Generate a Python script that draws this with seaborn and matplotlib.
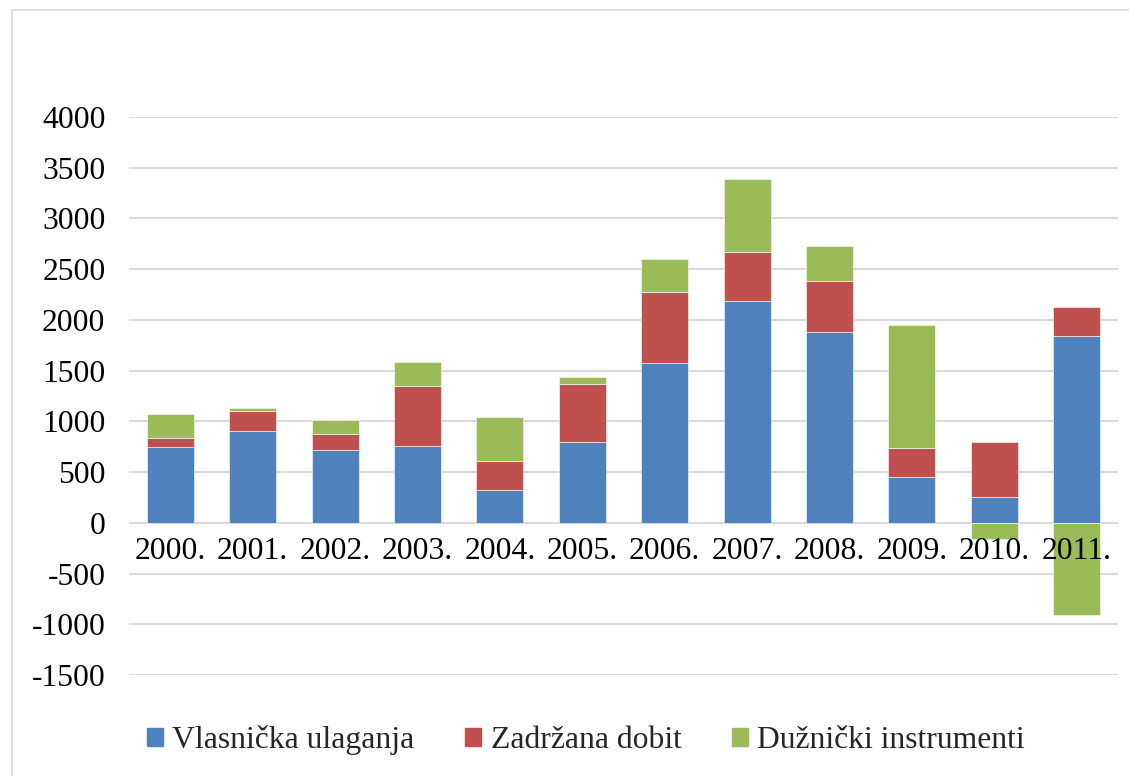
import matplotlib
matplotlib.use("Agg")
import matplotlib.pyplot as plt
import matplotlib.patches as mpatches
import numpy as np
import seaborn as sns

years = ["2000.", "2001.", "2002.", "2003.", "2004.", "2005.",
         "2006.", "2007.", "2008.", "2009.", "2010.", "2011."]
vlasnicka = [747, 908, 717, 760, 319, 796, 1574, 2187, 1882, 449, 259, 1846]
zadrzana = [85, 191, 158, 589, 286, 570, 701, 485, 505, 285, 534, 279]
duznicki = [244, 33, 141, 240, 434, 70, 322, 715, 338, 1214, -157, -908]

series_names = ["Vlasnička ulaganja", "Zadržana dobit", "Dužnički instrumenti"]
colors = ["#4F81BD", "#C0504D", "#9BBB59"]

sns.set_theme(style="white")
plt.rcParams["font.family"] = ["Liberation Serif", "DejaVu Serif"]
plt.rcParams["axes.unicode_minus"] = False

fig = plt.figure(figsize=(11.29, 7.76), dpi=100)
ax = fig.add_axes([129 / 1129, 1 - 675 / 776, 989 / 1129, 558 / 776])

# outer chart border (left/top visible)
fig.patches.append(mpatches.Rectangle((12 / 1129, -0.05), 1.2, 1 - 10 / 776 + 0.05,
                                      transform=fig.transFigure, fill=False,
                                      edgecolor="#D9D9D9", linewidth=1.2, zorder=0))

# stacking: positive parts stack upwards, negative parts go down from zero
blue = np.array(vlasnicka, dtype=float)
red = np.array(zadrzana, dtype=float)
green = np.array(duznicki, dtype=float)
green_bottom = np.where(green >= 0, blue + red, 0)

yticks = np.arange(-1500, 4001, 500)
for t in yticks:
    ax.axhline(t, color="#D9D9D9", linewidth=1.5, zorder=0.5)

layers = [(blue, np.zeros_like(blue)), (red, blue), (green, green_bottom)]
for (vals, bottom), col in zip(layers, colors):
    sns.barplot(x=years, y=vals, bottom=bottom, color=col, width=0.57,
                saturation=1, edgecolor="white", linewidth=0.4, ax=ax, zorder=2)

ax.set_ylim(-1500, 4000)
ax.set_xlim(-0.5, len(years) - 0.5)
ax.set_yticks(yticks)
ax.grid(False)
ax.set_axisbelow(False)
for s in ax.spines.values():
    s.set_visible(False)
ax.spines["bottom"].set_position(("data", 0))
ax.tick_params(axis="both", length=0, labelsize=22.8, colors="black")
ax.tick_params(axis="y", pad=17)
ax.tick_params(axis="x", pad=10)
ax.set_xlabel("")
ax.set_ylabel("")

handles = [mpatches.Patch(color=c, label=n) for c, n in zip(colors, series_names)]
fig.legend(handles=handles, loc="center", bbox_to_anchor=(586 / 1129, 1 - 740 / 776),
           ncol=3, frameon=False, fontsize=22.8, handlelength=0.5, handleheight=0.5,
           handletextpad=0.3, columnspacing=1.6)

fig.savefig("out.png", dpi=100)
